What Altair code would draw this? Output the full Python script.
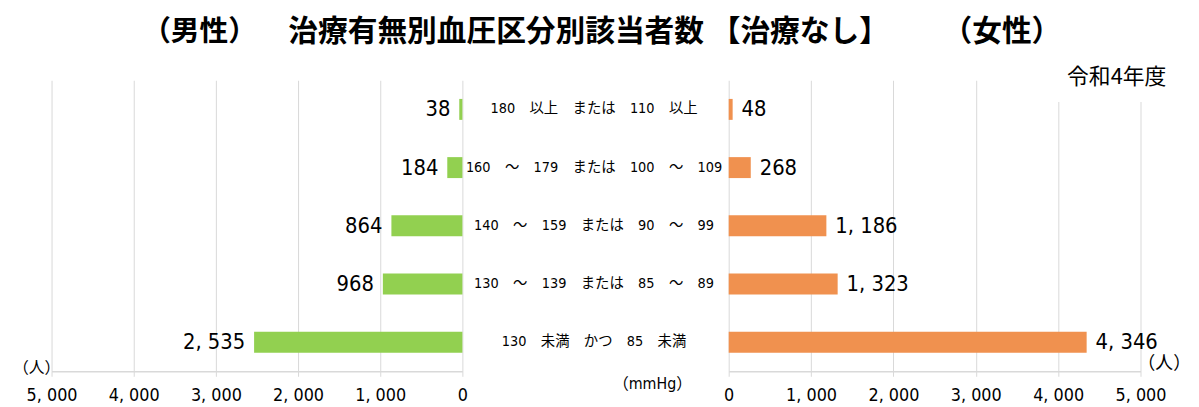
import altair as alt
import pandas as pd

# ---- data ----
categories = [
    "180\u3000以上\u3000または\u3000110\u3000以上",
    "160\u3000～\u3000179\u3000または\u3000100\u3000～\u3000109",
    "140\u3000～\u3000159\u3000または\u300090\u3000～\u300099",
    "130\u3000～\u3000139\u3000または\u300085\u3000～\u300089",
    "130\u3000未満\u3000かつ\u300085\u3000未満",
]
male = [38, 184, 864, 968, 2535]
female = [48, 268, 1186, 1323, 4346]
tick_values = [0, 1000, 2000, 3000, 4000, 5000]

title_left = "（男性）"
title_main = "治療有無別血圧区分別該当者数 【治療なし】"
title_right = "（女性）"
year_label = "令和4年度"
unit_label = "（人）"
mmhg_label = "（mmHg）"

df = pd.DataFrame({"category": categories, "male": male, "female": female})

GREEN = "#92D050"
ORANGE = "#F0914F"
GRID = "#D9D9D9"
NARROW = "DejaVu Sans Condensed, Liberation Sans Narrow, Noto Sans CJK JP"
CJK = "Noto Sans CJK JP"

W_L, W_C, W_R, H = 415, 269, 416, 294
HEAD = 67

yscale = alt.Scale(domain=categories, paddingInner=0.64, paddingOuter=0.32)
Y = alt.Y("category:N", sort=categories, scale=yscale, axis=None)


def xaxis():
    return alt.Axis(
        values=tick_values, grid=True, gridColor=GRID, gridWidth=1,
        domainColor=GRID, domainWidth=1.5, tickColor=GRID, tickSize=5,
        labelExpr="replace(format(datum.value, ','), ',', ', ')",
        labelFont=NARROW, labelFontSize=18, labelColor="#000",
        labelPadding=10, labelOverlap=False, labelFlush=False, title=None,
    )


def one_text(txt):
    return alt.Chart(pd.DataFrame({"t": [txt]}))


# ---- header (titles) ----
def head_text(txt, x, size):
    return one_text(txt).mark_text(
        font=CJK, fontSize=size, fontWeight="bold", baseline="middle", align="center", color="#000"
    ).encode(x=alt.value(x), y=alt.value(18.5), text="t:N")


header = alt.layer(
    head_text(title_left, 149.5, 29),
    head_text(title_main, 542.5, 30),
    head_text(title_right, 960, 30),
).properties(width=W_L + W_C + W_R, height=HEAD)

# ---- left (male) ----
lbase = alt.Chart(df).encode(
    y=Y,
    x=alt.X("male:Q", scale=alt.Scale(domain=[0, 5000], reverse=True), axis=xaxis()),
)
lbars = lbase.mark_bar(color=GREEN)
ltext = lbase.transform_calculate(
    lab="replace(format(datum.male, ','), ',', ', ')"
).mark_text(align="right", baseline="middle", dx=-9, font=NARROW, fontSize=22, color="#000").encode(
    text="lab:N"
)
lunit = one_text(unit_label).mark_text(
    font=CJK, fontSize=16, baseline="middle", align="center", color="#000"
).encode(x=alt.value(-15), y=alt.value(291), text="t:N")
left = alt.layer(lbars, ltext, lunit).properties(width=W_L, height=H)

# ---- center (category labels) ----
ctext = alt.Chart(df).mark_text(
    font=NARROW, fontSize=14.5, baseline="middle", align="center", color="#000"
).encode(y=Y, x=alt.value(133), text="category:N")
cmm = one_text(mmhg_label).mark_text(
    font=NARROW, fontSize=16, baseline="middle", align="center", color="#000"
).encode(x=alt.value(192), y=alt.value(307), text="t:N")
center = alt.layer(ctext, cmm).properties(width=W_C, height=H)

# ---- right (female) ----
rbase = alt.Chart(df).encode(
    y=Y,
    x=alt.X("female:Q", scale=alt.Scale(domain=[0, 5000]), axis=xaxis()),
)
rbars = rbase.mark_bar(color=ORANGE)
rtext = rbase.transform_calculate(
    lab="replace(format(datum.female, ','), ',', ', ')"
).mark_text(align="left", baseline="middle", dx=9, font=NARROW, fontSize=22, color="#000").encode(
    text="lab:N"
)
rbox = one_text(year_label).mark_rect(color="white").encode(
    x=alt.value(310), x2=alt.value(446), y=alt.value(-16), y2=alt.value(22)
)
ryear = one_text(year_label).mark_text(
    font=CJK, fontSize=22, baseline="middle", align="right", color="#000"
).encode(x=alt.value(442), y=alt.value(-3), text="t:N")
runit = one_text(unit_label).mark_text(
    font=CJK, fontSize=18, baseline="middle", align="center", color="#000"
).encode(x=alt.value(440), y=alt.value(287), text="t:N")
right = alt.layer(rbox, rbars, rtext, ryear, runit).properties(width=W_R, height=H)

body = alt.hconcat(left, center, right, spacing=0, bounds="flush")

chart = (
    alt.vconcat(header, body, spacing=0, bounds="flush")
    .properties(padding={"left": 4, "top": 4, "right": 0, "bottom": 0})
    .configure(background="white")
    .configure_view(strokeWidth=0, stroke=None)
)

chart.save("out.html", embed_options={"renderer": "svg", "actions": False})
